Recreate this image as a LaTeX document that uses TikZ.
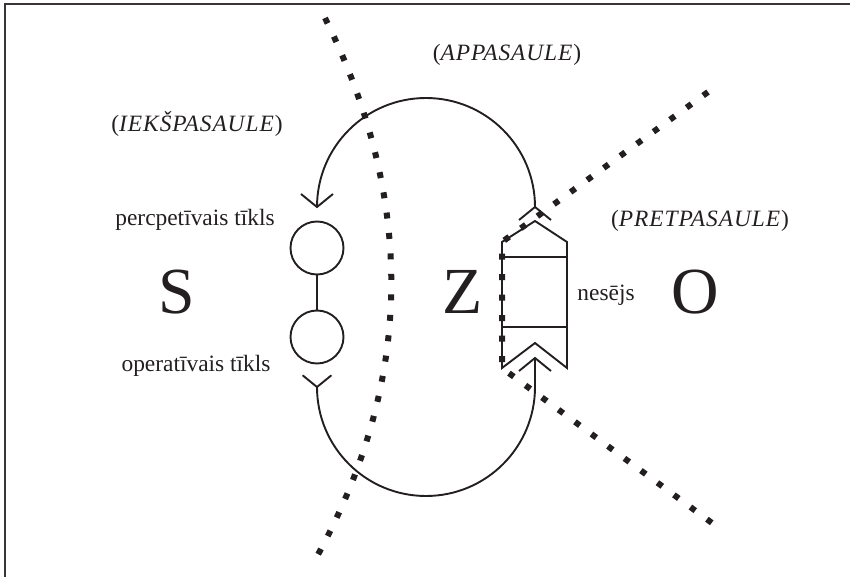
\documentclass[tikz,border=0pt]{standalone}
\usepackage{fontspec}
\setmainfont{Liberation Serif}
\definecolor{inkc}{HTML}{231F20}
\newcommand{\spaced}[1]{{\itshape\addfontfeature{LetterSpace=4}#1\/}}
\begin{document}
\begin{tikzpicture}[x=1bp,y=-1bp,
  ink/.style={line width=1.9bp, draw=inkc},
  dotline/.style={line width=6bp, draw=inkc, line cap=butt, dash pattern=on 6bp off 14.5bp},
  lbl/.style={font=\fontsize{23.5}{28}\selectfont, text=inkc, inner sep=0pt, anchor=base},
  big/.style={font=\fontsize{66}{70}\selectfont, text=inkc, inner sep=0pt, anchor=base},
  ring/.style={circle, draw=inkc, line width=1.9bp, minimum size=53bp, inner sep=0pt},
  chev/.pic={\draw[ink, line join=miter] (-16,13) -- (0,0) -- (16,13);}
]
\useasboundingbox (0,0) rectangle (850,577);

% frame (open at right and bottom)
\draw[line width=2bp, draw=inkc!90] (4.5,577) -- (4.5,4.5) -- (850,4.5);

% dotted borders between the worlds
\draw[dotline] (325,18) .. controls (415,200) and (415,380) .. (315,560);
\draw[dotline] (708,92) -- (502,242) -- (502,368) -- (712,523);

% perceptive and operative networks
\node[ring] (perc) at (317,248) {};
\node[ring] (oper) at (317,337) {};
\draw[ink] (perc) -- (oper);

% carrier
\draw[ink, line join=miter] (502,242) -- (535,221) -- (567,242) -- (567,368)
  -- (535,343) -- (502,368) -- cycle;
\draw[ink] (502,257) -- (567,257);
\draw[ink] (502,327) -- (567,327);

% loop ends
\coordinate (outTop) at (535,207);
\coordinate (inTop)  at (317,207);
\coordinate (outBot) at (317,387);
\coordinate (inBot)  at (535,358);

% upper loop: from the carrier to the perceptive network
\draw[ink] (outTop) arc[start angle=0, end angle=-180, radius=109];
\pic at (outTop) {chev};
\pic[rotate=180] at (inTop) {chev};

% lower loop: from the operative network to the carrier
\draw[ink] (outBot) arc[start angle=180, end angle=0, radius=109] -- (inBot);
\pic[rotate=180, scale=0.9] at (outBot) {chev};
\pic at (inBot) {chev};

% labels
\node[lbl] (apps) at (507,61) {(\spaced{APPASAULE})};
\node[lbl] (ieks) at (197,132) {(\spaced{IEKŠPASAULE})};
\node[lbl] (pret) at (700,227) {(\spaced{PRETPASAULE})};
\node[lbl] (percl) at (195,226) {percpetīvais tīkls};
\node[lbl] (operl) at (196,371) {operatīvais tīkls};
\node[lbl] (nes) at (606,300) {nesējs};
\node[big] (S) at (177,313) {S};
\node[big] (Z) at (463,313) {Z};
\node[big] (O) at (695,313) {O};
\end{tikzpicture}
\end{document}
